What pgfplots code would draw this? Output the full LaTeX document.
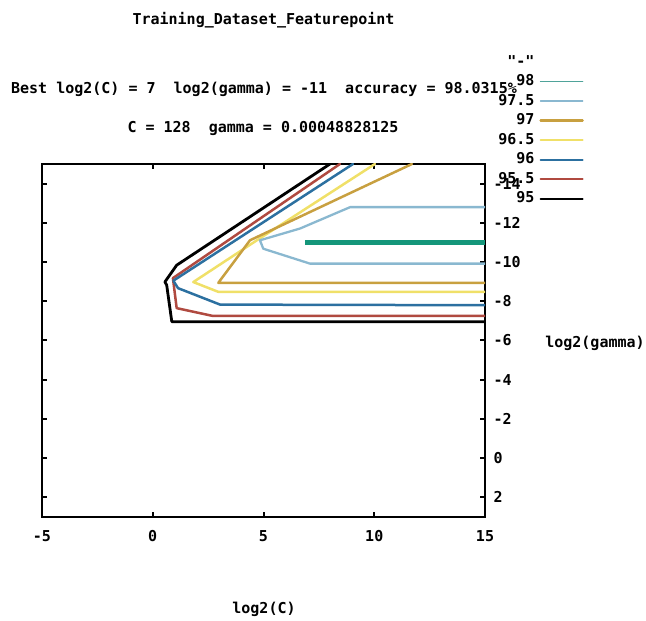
\documentclass[border=0pt]{standalone}
\usepackage{pgfplots}
\pgfplotsset{compat=1.18}
\usepackage{fontspec}
\setmonofont{DejaVu Sans Mono}
\newcommand\gpf{\fontsize{15}{18}\selectfont\ttfamily\bfseries}
\definecolor{c98}{HTML}{14967A}
\definecolor{c98l}{HTML}{4FA39A}
\definecolor{c975}{HTML}{8AB8D0}
\definecolor{c97}{HTML}{C8A040}
\definecolor{c965}{HTML}{F0E068}
\definecolor{c96}{HTML}{2C70A0}
\definecolor{c955}{HTML}{B04A40}
\definecolor{c95}{HTML}{000000}
\begin{document}
\begin{tikzpicture}[x=1pt,y=1pt]
\path[use as bounding box] (0,0) rectangle (646,621);
\begin{axis}[
  at={(263.5pt,280.5pt)}, anchor=center,
  scale only axis, width=443pt, height=353pt,
  xmin=-5, xmax=15, ymin=-15, ymax=3, y dir=reverse,
  axis line style={line width=2.4pt},
  xtick={-5,0,5,10,15}, xticklabels={-5,0,5,10,15},
  ytick={-14,-12,-10,-8,-6,-4,-2,0,2},
  yticklabels={-14,-12,-10,-8,-6,-4,-2,0,2},
  tick align=inside, tick pos=both, major tick length=5pt,
  major tick style={line width=2pt,black},
  yticklabel pos=right,
  ticklabel style={font=\gpf},
  xticklabel style={yshift=-10pt},
  yticklabel style={xshift=5pt},
  clip=true,
  legend plot pos=right,
  legend cell align=right,
  legend image code/.code={\draw[#1] (0pt,0pt) -- (42pt,0pt);},
  legend style={draw=none, fill=none, font=\gpf,
    at={(1.2235,1.309)}, anchor=north east,
    row sep=5.5pt, column sep=5pt, inner sep=0pt,
    nodes={inner sep=0pt, text height=11pt, text depth=3pt}},
  every axis plot/.append style={line join=round, line cap=round},
]
% 95
\addplot[c95, line width=2.8pt, forget plot] coordinates {
 (8.00,-15) (1.08,-9.84) (0.55,-8.99) (0.63,-8.82) (0.86,-6.96) (15,-6.96)};
% 95.5
\addplot[c955, line width=2.5pt, forget plot] coordinates {
 (8.45,-15) (0.91,-9.18) (1.08,-7.65) (2.72,-7.25) (15,-7.25)};
% 96
\addplot[c96, line width=2.5pt, forget plot] coordinates {
 (9.04,-15) (0.93,-9.05) (1.14,-8.67) (3.04,-7.83) (15,-7.80)};
% 96.5
\addplot[c965, line width=2.5pt, forget plot] coordinates {
 (10.03,-15) (4.62,-11.05) (1.83,-8.98) (2.96,-8.48) (15,-8.48)};
% 97
\addplot[c97, line width=2.5pt, forget plot] coordinates {
 (11.70,-15) (4.39,-11.11) (2.96,-8.94) (15,-8.94)};
% 97.5
\addplot[c975, line width=2.3pt, forget plot] coordinates {
 (15,-12.80) (8.91,-12.80) (6.65,-11.71) (4.84,-11.11) (4.99,-10.68) (7.10,-9.92) (15,-9.92)};
% 98
\addplot[c98, line width=4.8pt, line cap=butt, forget plot] coordinates {
 (6.88,-10.98) (15,-10.98)};
\addlegendimage{empty legend}\addlegendentry{"-"}
\addlegendimage{c98l, line width=1.6pt}\addlegendentry{98}
\addlegendimage{c975, line width=1.6pt}\addlegendentry{97.5}
\addlegendimage{c97, line width=2.4pt}\addlegendentry{97}
\addlegendimage{c965, line width=2.2pt}\addlegendentry{96.5}
\addlegendimage{c96, line width=1.8pt}\addlegendentry{96}
\addlegendimage{c955, line width=1.8pt}\addlegendentry{95.5}
\addlegendimage{c95, line width=1.8pt}\addlegendentry{95}
\end{axis}
\node[font=\gpf] at (263.5,601) {Training\_Dataset\_Featurepoint};
\node[font=\gpf] at (264,532) {Best log2(C) = 7~~log2(gamma) = -11~~accuracy = 98.0315\%};
\node[font=\gpf] at (263,493) {C = 128~~gamma = 0.00048828125};
\node[font=\gpf] at (264,12) {log2(C)};
\node[font=\gpf] at (595,278) {log2(gamma)};
\end{tikzpicture}
\end{document}
